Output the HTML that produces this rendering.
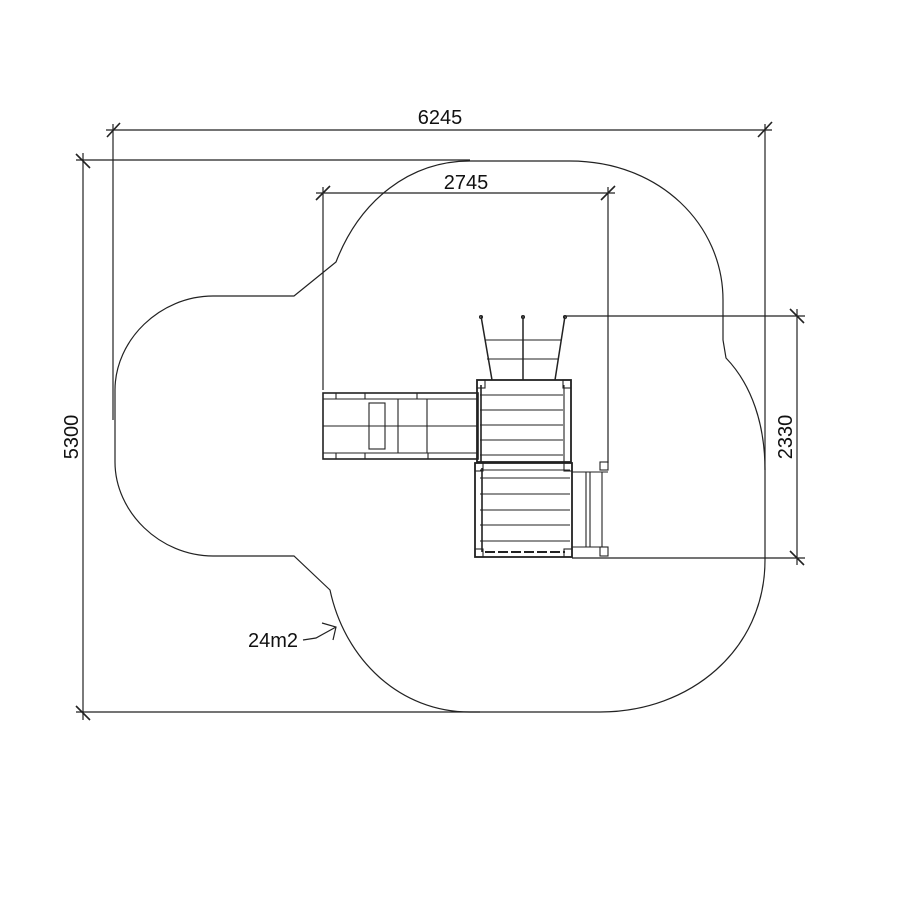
<!DOCTYPE html>
<html><head><meta charset="utf-8"><style>
html,body{margin:0;padding:0;background:#fff;width:900px;height:900px;overflow:hidden}
text{font-family:"Liberation Sans",sans-serif;font-size:20px;fill:#111}
</style></head><body>
<svg width="900" height="900" viewBox="0 0 900 900" xmlns="http://www.w3.org/2000/svg">
<g fill="none" stroke="#222" stroke-width="1.2">
<path d="M213 296 L294 296 L336 262 C360 200 410 161 470 161 L570 161 C660 161 723 225 723 300 L723 340 L726 358 C752 385 765 425 765 470 L765 560 C765 650 690 712 600 712 L470 712 C400 712 345 660 330 590 L294 556 L213 556 C160 556 115 512 115 462 L115 390 C115 340 160 296 213 296 Z"/>
<line x1="106" y1="130" x2="772" y2="130"/>
<line x1="113" y1="124" x2="113" y2="420"/>
<line x1="765" y1="124" x2="765" y2="470"/>
<line x1="107" y1="137" x2="120" y2="123" stroke-width="1.6"/>
<line x1="758" y1="137" x2="772" y2="122" stroke-width="1.6"/>
<line x1="83" y1="153" x2="83" y2="720"/>
<line x1="76" y1="160" x2="470" y2="160"/>
<line x1="76" y1="712" x2="480" y2="712"/>
<line x1="76" y1="154" x2="90" y2="168" stroke-width="1.6"/>
<line x1="76" y1="706" x2="90" y2="720" stroke-width="1.6"/>
<line x1="316" y1="193" x2="615" y2="193"/>
<line x1="323" y1="187" x2="323" y2="390"/>
<line x1="608" y1="187" x2="608" y2="463"/>
<line x1="316" y1="200" x2="330" y2="186" stroke-width="1.6"/>
<line x1="601" y1="200" x2="615" y2="186" stroke-width="1.6"/>
<line x1="565" y1="316" x2="805" y2="316"/>
<line x1="572" y1="558" x2="805" y2="558"/>
<line x1="797" y1="309" x2="797" y2="565"/>
<line x1="790" y1="309" x2="804" y2="323" stroke-width="1.6"/>
<line x1="790" y1="551" x2="804" y2="565" stroke-width="1.6"/>
<path d="M303 640 L316 638 L336 627"/>
<path d="M322 623 L336 627 L333 640"/>
</g>
<g fill="none" stroke="#222" stroke-width="1.1">
<line x1="481" y1="316" x2="492" y2="380" stroke-width="1.5"/>
<line x1="523" y1="316" x2="523" y2="380" stroke-width="1.5"/>
<line x1="565" y1="316" x2="555" y2="380" stroke-width="1.5"/>
<line x1="485" y1="340" x2="561" y2="340"/>
<line x1="487" y1="359" x2="559" y2="359"/>
<circle cx="481" cy="317" r="1.5"/><circle cx="523" cy="317" r="1.5"/><circle cx="565" cy="317" r="1.5"/>
<rect x="477" y="380" width="94" height="82" stroke-width="1.8"/>
<line x1="480" y1="395" x2="563" y2="395"/>
<line x1="480" y1="410" x2="563" y2="410"/>
<line x1="480" y1="425" x2="563" y2="425"/>
<line x1="480" y1="440" x2="563" y2="440"/>
<line x1="480" y1="455" x2="563" y2="455"/>
<line x1="564" y1="385" x2="564" y2="462"/>
<line x1="481" y1="385" x2="481" y2="462" stroke-width="1.6"/>
<rect x="477" y="380" width="8" height="8"/><rect x="563" y="380" width="8" height="8"/>
<rect x="475" y="463" width="97" height="94" stroke-width="1.8"/>
<line x1="480" y1="470" x2="570" y2="470"/>
<line x1="480" y1="478" x2="570" y2="478"/>
<line x1="480" y1="494" x2="570" y2="494"/>
<line x1="480" y1="510" x2="570" y2="510"/>
<line x1="480" y1="525" x2="570" y2="525"/>
<line x1="480" y1="541" x2="570" y2="541"/>
<line x1="482" y1="468" x2="482" y2="552" stroke-width="1.6"/>
<line x1="485" y1="552" x2="565" y2="552" stroke-width="2" stroke-dasharray="10 3"/>
<rect x="475" y="463" width="8" height="8"/><rect x="564" y="463" width="8" height="8"/>
<rect x="475" y="549" width="8" height="8"/><rect x="564" y="549" width="8" height="8"/>
<line x1="572" y1="472" x2="608" y2="472"/>
<line x1="572" y1="547" x2="608" y2="547"/>
<line x1="586" y1="472" x2="586" y2="547"/>
<line x1="590" y1="472" x2="590" y2="547"/>
<line x1="602" y1="472" x2="602" y2="547"/>
<rect x="600" y="462" width="8" height="8"/><rect x="600" y="547" width="8" height="9"/>
<rect x="323" y="393" width="155" height="66" stroke-width="1.6"/>
<line x1="323" y1="399" x2="478" y2="399"/>
<line x1="323" y1="453" x2="478" y2="453"/>
<line x1="323" y1="426" x2="478" y2="426"/>
<rect x="369" y="403" width="16" height="46"/>
<line x1="398" y1="399" x2="398" y2="453"/>
<line x1="427" y1="399" x2="427" y2="453"/>
<line x1="336" y1="393" x2="336" y2="399"/><line x1="365" y1="393" x2="365" y2="399"/>
<line x1="336" y1="453" x2="336" y2="459"/><line x1="365" y1="453" x2="365" y2="459"/>
<line x1="417" y1="393" x2="417" y2="399"/><line x1="428" y1="453" x2="428" y2="459"/>
</g>
<text x="440" y="124" text-anchor="middle">6245</text>
<text x="466" y="189" text-anchor="middle">2745</text>
<text x="273" y="647" text-anchor="middle">24m2</text>
<text transform="translate(78 437) rotate(-90)" text-anchor="middle">5300</text>
<text transform="translate(792 437) rotate(-90)" text-anchor="middle">2330</text>
</svg>
</body></html>
